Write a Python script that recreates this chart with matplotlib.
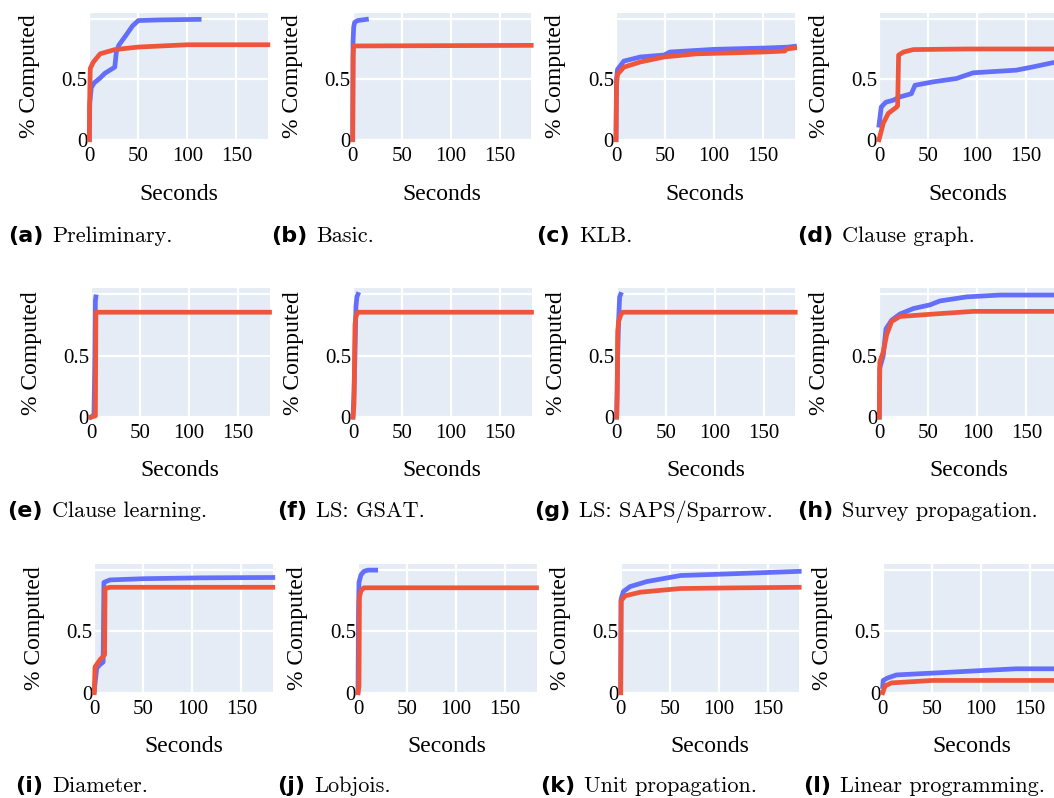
import matplotlib
matplotlib.use("Agg")
import matplotlib.pyplot as plt

# ---- data (seconds, fraction computed) ----
a_blue_t = [0, 0.5, 2, 5, 11, 16, 22, 26, 27.5, 30, 38, 44, 50, 70, 112]
a_blue_y = [0, 0.3, 0.43, 0.47, 0.51, 0.55, 0.58, 0.6, 0.72, 0.78, 0.87, 0.94, 0.985, 0.99, 0.995]
a_red_t = [0, 0.5, 1, 4, 11, 26, 50, 100, 182]
a_red_y = [0, 0.4, 0.59, 0.64, 0.71, 0.745, 0.766, 0.785, 0.785]

b_blue_t = [0, 0.3, 1, 2, 5, 14]
b_blue_y = [0, 0.8, 0.93, 0.97, 0.985, 0.995]
b_red_t = [0, 0.5, 1, 182]
b_red_y = [0, 0.7, 0.775, 0.78]

c_blue_t = [0, 0.5, 1.5, 8, 25, 49, 55, 100, 152, 175, 182]
c_blue_y = [0, 0.5, 0.58, 0.65, 0.684, 0.70, 0.725, 0.747, 0.758, 0.765, 0.772]
c_red_t = [0, 0.5, 1.5, 8, 25, 49, 82, 150, 172, 174, 182]
c_red_y = [0, 0.45, 0.54, 0.60, 0.643, 0.684, 0.71, 0.725, 0.733, 0.75, 0.758]

d_blue_t = [0, 2.3, 7, 14.6, 21.4, 33, 36.7, 55, 79, 96, 140, 157, 182]
d_blue_y = [0.12, 0.27, 0.31, 0.327, 0.354, 0.38, 0.45, 0.478, 0.506, 0.553, 0.575, 0.602, 0.645]
d_red_t = [0, 4.4, 9.5, 18, 19, 20, 25, 35, 89, 182]
d_red_y = [0, 0.137, 0.218, 0.27, 0.28, 0.70, 0.725, 0.745, 0.75, 0.75]

e_blue_t = [0, 3, 4, 4.5, 5]
e_blue_y = [0, 0.02, 0.5, 0.95, 0.98]
e_red_t = [0, 4.5, 5, 182]
e_red_y = [0, 0.01, 0.855, 0.855]

f_blue_t = [0, 1, 2, 3, 4, 5]
f_blue_y = [0, 0.2, 0.5, 0.9, 0.98, 1.0]
f_red_t = [0, 1, 2, 3, 5, 182]
f_red_y = [0, 0.1, 0.75, 0.82, 0.855, 0.855]

g_blue_t = [0, 1, 2, 3, 4]
g_blue_y = [0, 0.5, 0.8, 0.98, 1.0]
g_red_t = [0, 0.5, 1, 2, 4, 6, 182]
g_red_y = [0, 0.2, 0.7, 0.78, 0.83, 0.855, 0.855]

h_blue_t = [0, 0.5, 4, 6.8, 12.6, 21, 34.7, 51.7, 61.9, 89, 123, 182]
h_blue_y = [0, 0.4, 0.5, 0.72, 0.79, 0.84, 0.885, 0.915, 0.947, 0.98, 0.995, 0.995]
h_red_t = [0, 0.5, 4, 7.5, 12.6, 21, 55, 96, 182]
h_red_y = [0, 0.45, 0.53, 0.67, 0.78, 0.82, 0.84, 0.862, 0.862]

i_blue_t = [0, 2.5, 5.9, 9, 9.8, 16, 50, 109, 182]
i_blue_y = [0.02, 0.2, 0.23, 0.25, 0.9, 0.92, 0.93, 0.937, 0.94]
i_red_t = [0, 0.7, 5.9, 10.5, 11, 16, 182]
i_red_y = [0, 0.21, 0.27, 0.31, 0.85, 0.86, 0.86]

j_blue_t = [0, 0.5, 1, 3, 6, 10, 18]
j_blue_y = [0, 0.68, 0.9, 0.96, 0.99, 1.0, 1.0]
j_red_t = [0, 1, 1.5, 3, 6, 182]
j_red_y = [0, 0.05, 0.78, 0.83, 0.856, 0.856]

k_blue_t = [0, 0.3, 2.7, 9.6, 26.8, 61, 113, 182]
k_blue_y = [0, 0.76, 0.825, 0.866, 0.907, 0.956, 0.97, 0.99]
k_red_t = [0, 0.5, 4.4, 20, 61, 113, 182]
k_red_y = [0, 0.75, 0.79, 0.82, 0.85, 0.855, 0.86]

l_blue_t = [0, 0.5, 5, 14, 51, 99, 136, 182]
l_blue_y = [0.05, 0.1, 0.12, 0.145, 0.16, 0.18, 0.195, 0.195]
l_red_t = [0, 2.4, 9, 51, 182]
l_red_y = [0, 0.055, 0.08, 0.1, 0.1]

blue_series = [(a_blue_t, a_blue_y), (b_blue_t, b_blue_y), (c_blue_t, c_blue_y), (d_blue_t, d_blue_y),
               (e_blue_t, e_blue_y), (f_blue_t, f_blue_y), (g_blue_t, g_blue_y), (h_blue_t, h_blue_y),
               (i_blue_t, i_blue_y), (j_blue_t, j_blue_y), (k_blue_t, k_blue_y), (l_blue_t, l_blue_y)]
red_series = [(a_red_t, a_red_y), (b_red_t, b_red_y), (c_red_t, c_red_y), (d_red_t, d_red_y),
              (e_red_t, e_red_y), (f_red_t, f_red_y), (g_red_t, g_red_y), (h_red_t, h_red_y),
              (i_red_t, i_red_y), (j_red_t, j_red_y), (k_red_t, k_red_y), (l_red_t, l_red_y)]

caption_labels = ['(a)', '(b)', '(c)', '(d)', '(e)', '(f)', '(g)', '(h)', '(i)', '(j)', '(k)', '(l)']
caption_texts = ['Preliminary.', 'Basic.', 'KLB.', 'Clause graph.',
                 'Clause learning.', 'LS: GSAT.', 'LS: SAPS/Sparrow.', 'Survey propagation.',
                 'Diameter.', 'Lobjois.', 'Unit propagation.', 'Linear programming.']

x_ticks = [0, 50, 100, 150]
x_tick_labels = ['0', '50', '100', '150']
y_ticks = [0, 0.5, 1]
y_tick_labels = ['0', '0.5', '']

# ---- layout in pixels ----
W, H = 1054, 798
PW = 178.5
XMAX = 182
row_top = [12.7, 288.3, 564.0]
row_zero = [139.7, 417.1, 692.7]
col_left = [[89.3, 352.7, 616.0, 879.0],
            [91.0, 353.0, 616.7, 879.3],
            [94.3, 358.0, 620.7, 882.7]]
cap_text_left = [[52, 316, 579, 842],
                 [52, 316, 579, 842],
                 [52, 314, 584, 840]]
cap_base = [242, 517, 792]
secs_y = [195, 471, 747]

BLUE = '#636EFA'
RED = '#EF553B'
BG = '#E5ECF6'
SERIF = 'Liberation Serif'

fig = plt.figure(figsize=(W / 100, H / 100), dpi=100)

for k in range(12):
    r, c = divmod(k, 4)
    left = col_left[r][c]
    top = row_top[r]
    zero = row_zero[r]
    ax = fig.add_axes([left / W, 1 - zero / H, PW / W, (zero - top) / H])
    ax.set_facecolor(BG)
    for s in ax.spines.values():
        s.set_visible(False)
    ax.set_xlim(0, XMAX)
    ax.set_ylim(0, 1.05)
    ax.set_xticks(x_ticks)
    ax.set_xticklabels(x_tick_labels, fontfamily=SERIF, fontsize=15)
    ax.set_yticks(y_ticks)
    ax.set_yticklabels(y_tick_labels, fontfamily=SERIF, fontsize=15)
    ax.tick_params(axis='x', length=0, pad=5)
    ax.tick_params(axis='y', length=0, pad=1.5)
    ax.grid(True, color='white', linewidth=1.6)
    ax.set_axisbelow(True)

    bt, by = blue_series[k]
    rt, ry = red_series[k]
    ax.plot(bt, by, color=BLUE, linewidth=3.4, solid_joinstyle='round', clip_on=False)
    ax.plot(rt, ry, color=RED, linewidth=3.4, solid_joinstyle='round', clip_on=False)

    # axis titles
    fig.text((left + PW / 2) / W, 1 - secs_y[r] / H, 'Seconds', fontfamily=SERIF,
             fontsize=17, ha='center', va='center')
    fig.text((left - 60) / W, 1 - (top + zero) / 2 / H, '% Computed', fontfamily=SERIF,
             fontsize=17, ha='center', va='center', rotation=90)

    # sub-captions
    tl = cap_text_left[r][c]
    fig.text((tl - 9) / W, 1 - cap_base[r] / H, caption_labels[k], fontfamily='DejaVu Sans',
             fontweight='bold', fontsize=16, ha='right', va='baseline')
    fig.text(tl / W, 1 - cap_base[r] / H, caption_texts[k], fontfamily='cmr10',
             fontsize=16, ha='left', va='baseline')

fig.savefig('out.png', dpi=100)
